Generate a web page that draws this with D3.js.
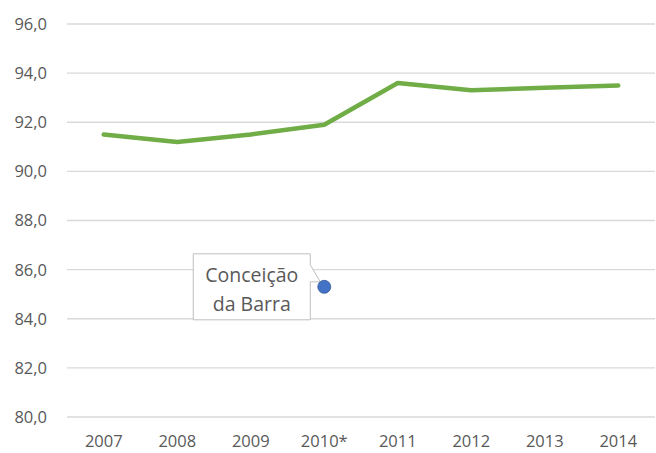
<!DOCTYPE html>
<html>
<head>
<meta charset="utf-8">
<script src="https://cdn.jsdelivr.net/npm/d3@7"></script>
<style>
  body { margin: 0; background: #fff; }
  text { font-family: "Open Sans", sans-serif; fill: #595959; }
</style>
</head>
<body>
<div id="chart"></div>
<script>
var years = ["2007", "2008", "2009", "2010*", "2011", "2012", "2013", "2014"];
var values = [91.5, 91.2, 91.5, 91.9, 93.6, 93.3, 93.4, 93.5];
var yTicks = [80, 82, 84, 86, 88, 90, 92, 94, 96];
var pointYear = "2010*";
var pointValue = 85.3;
var pointLabel = ["Conceição", "da Barra"];

var width = 656,
    height = 453;
var margin = {top: 24, right: 1, bottom: 36, left: 67};

var svg = d3.select("#chart").append("svg")
    .attr("width", width)
    .attr("height", height);

var x = d3.scaleBand()
    .domain(years)
    .range([margin.left, width - margin.right]);

var y = d3.scaleLinear()
    .domain([80, 96])
    .range([height - margin.bottom, margin.top]);

// gridlines
svg.append("g")
  .selectAll("line")
  .data(yTicks)
  .enter().append("line")
    .attr("x1", margin.left)
    .attr("x2", width - margin.right)
    .attr("y1", function(d) { return y(d); })
    .attr("y2", function(d) { return y(d); })
    .attr("stroke", "#d9d9d9")
    .attr("stroke-width", 1.3);

// y labels
svg.append("g")
  .selectAll("text")
  .data(yTicks)
  .enter().append("text")
    .attr("x", 47)
    .attr("y", function(d) { return y(d); })
    .attr("dy", "0.36em")
    .attr("text-anchor", "end")
    .style("font-size", "16.5px")
    .text(function(d) { return d3.format(".1f")(d).replace(".", ","); });

// x labels
svg.append("g")
  .selectAll("text")
  .data(years)
  .enter().append("text")
    .attr("x", function(d) { return x(d) + x.bandwidth() / 2; })
    .attr("y", height - margin.bottom + 30)
    .attr("text-anchor", "middle")
    .style("font-size", "16.5px")
    .text(function(d) { return d; });

var line = d3.line()
    .x(function(d, i) { return x(years[i]) + x.bandwidth() / 2; })
    .y(function(d) { return y(d); });

svg.append("path")
    .datum(values)
    .attr("d", line)
    .attr("fill", "none")
    .attr("stroke", "#70ad47")
    .attr("stroke-width", 4.5)
    .attr("stroke-linecap", "round")
    .attr("stroke-linejoin", "round");

// single point + callout
var px = x(pointYear) + x.bandwidth() / 2,
    py = y(pointValue);

var bx0 = px - 131, bx1 = px - 14, by0 = py - 33, by1 = py + 33;
var callout = d3.path();
callout.moveTo(bx0, by0);
callout.lineTo(bx1, by0);
callout.lineTo(bx1, by0 + 11);
callout.lineTo(px - 4, py - 5);
callout.lineTo(bx1, by0 + 28);
callout.lineTo(bx1, by1);
callout.lineTo(bx0, by1);
callout.closePath();

svg.append("path")
    .attr("d", callout.toString())
    .attr("fill", "#fff")
    .attr("stroke", "#bfbfbf")
    .attr("stroke-width", 1);

svg.append("circle")
    .attr("cx", px)
    .attr("cy", py)
    .attr("r", 6.5)
    .attr("fill", "#4472c4")
    .attr("stroke", "#2f5597")
    .attr("stroke-width", 0.75);

svg.append("g")
  .selectAll("text")
  .data(pointLabel)
  .enter().append("text")
    .attr("x", (bx0 + bx1) / 2)
    .attr("y", function(d, i) { return by0 + 28 + i * 29; })
    .attr("text-anchor", "middle")
    .style("font-size", "19.5px")
    .text(function(d) { return d; });
</script>
</body>
</html>
